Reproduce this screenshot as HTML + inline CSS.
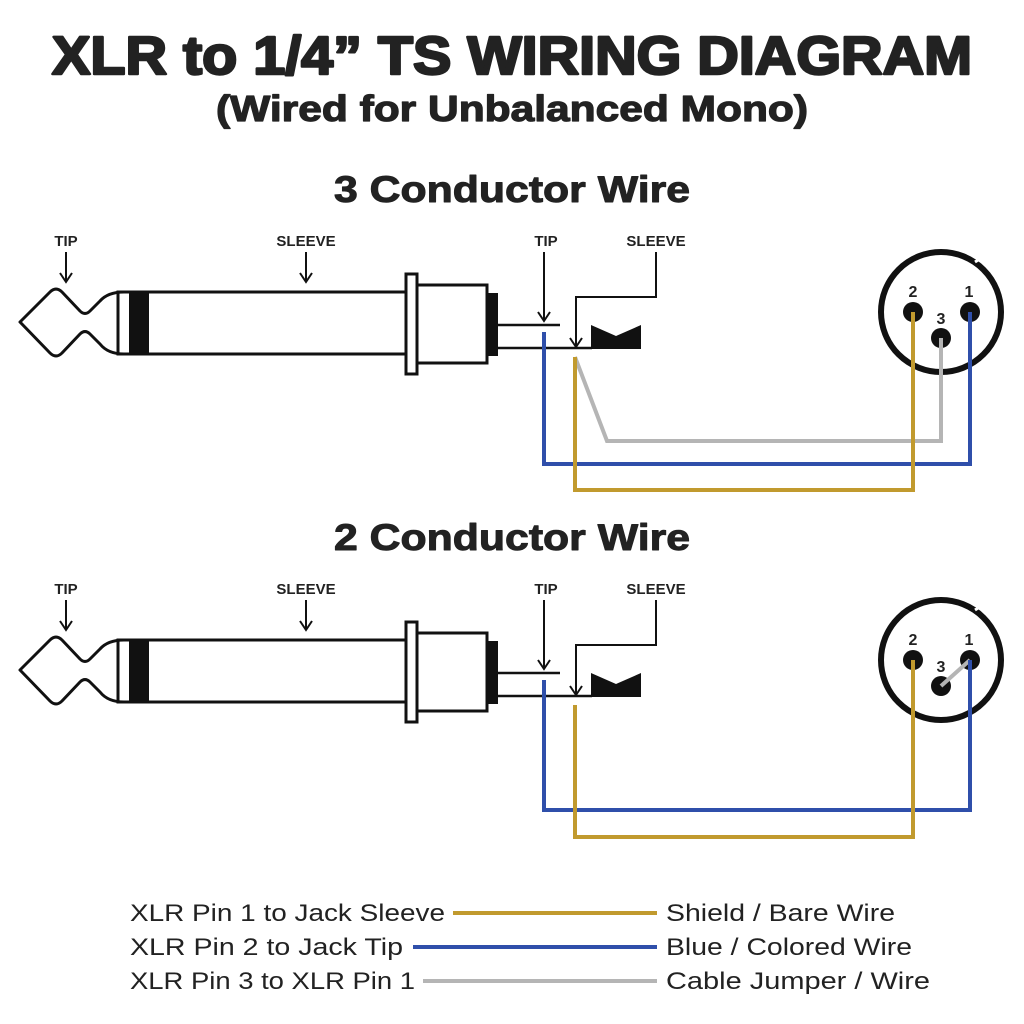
<!DOCTYPE html>
<html><head><meta charset="utf-8"><style>
html,body{margin:0;padding:0;background:#fff;}
svg{display:block;}
.b{font-family:"Liberation Sans",sans-serif;font-weight:bold;fill:#222;}
.h{font-family:"Liberation Sans",sans-serif;font-weight:bold;fill:#222;stroke:#222;stroke-linejoin:round;}
.r{font-family:"Liberation Sans",sans-serif;fill:#222;}
</style></head><body>
<svg width="1024" height="1024" viewBox="0 0 1024 1024" xmlns="http://www.w3.org/2000/svg">
<defs>
<g id="plug">
  <path d="M124,292 Q108,292 100,301 L90,311 Q85,316 80,311 L62,292 Q56,286 50,292 L20,322 L50,353 Q56,359 62,353 L80,334 Q85,329 90,334 L100,344 Q108,354 124,354" fill="none" stroke="#111" stroke-width="3" stroke-linejoin="round"/>
  <rect x="118" y="292" width="288" height="62" fill="none" stroke="#111" stroke-width="3"/>
  <rect x="129" y="292" width="20" height="62" fill="#111"/>
  <rect x="406" y="274" width="11" height="100" fill="#fff" stroke="#111" stroke-width="3"/>
  <rect x="417" y="285" width="70" height="78" fill="#fff" stroke="#111" stroke-width="3"/>
  <rect x="487" y="293" width="11" height="63" fill="#111"/>
  <line x1="498" y1="325" x2="560" y2="325" stroke="#111" stroke-width="2.5"/>
  <line x1="498" y1="348" x2="592" y2="348" stroke="#111" stroke-width="2.5"/>
  <path d="M591,325 L616,336 L641,325 L641,349 L591,349 Z" fill="#111"/>
  <line x1="544" y1="252" x2="544" y2="320" stroke="#111" stroke-width="2"/>
  <path d="M538,312 L544,321 L550,312" fill="none" stroke="#111" stroke-width="2"/>
  <path d="M656,252 L656,297 L576,297 L576,346" fill="none" stroke="#111" stroke-width="2"/>
  <path d="M570,338 L576,347 L582,338" fill="none" stroke="#111" stroke-width="2"/>
  <line x1="66" y1="252" x2="66" y2="281" stroke="#111" stroke-width="2"/>
  <path d="M60,273 L66,282 L72,273" fill="none" stroke="#111" stroke-width="2"/>
  <line x1="306" y1="252" x2="306" y2="281" stroke="#111" stroke-width="2"/>
  <path d="M300,273 L306,282 L312,273" fill="none" stroke="#111" stroke-width="2"/>
  <text class="b" x="66" y="246" font-size="15" text-anchor="middle">TIP</text>
  <text class="b" x="306" y="246" font-size="15" text-anchor="middle">SLEEVE</text>
  <text class="b" x="546" y="246" font-size="15" text-anchor="middle">TIP</text>
  <text class="b" x="656" y="246" font-size="15" text-anchor="middle">SLEEVE</text>
  <circle cx="941" cy="312" r="60" fill="none" stroke="#111" stroke-width="6"/>
  <path d="M975,262 L983,257" stroke="#fff" stroke-width="3"/>
  <circle cx="913" cy="312" r="10" fill="#111"/>
  <circle cx="970" cy="312" r="10" fill="#111"/>
  <circle cx="941" cy="338" r="10" fill="#111"/>
  <text class="b" x="913" y="297" font-size="16" text-anchor="middle">2</text>
  <text class="b" x="969" y="297" font-size="16" text-anchor="middle">1</text>
  <text class="b" x="941" y="324" font-size="16" text-anchor="middle">3</text>
</g>
</defs>
<text class="h" x="512" y="74" font-size="54" stroke-width="2.5" text-anchor="middle" textLength="920" lengthAdjust="spacingAndGlyphs">XLR to 1/4” TS WIRING DIAGRAM</text>
<text class="h" x="512" y="121" font-size="36" stroke-width="1.2" text-anchor="middle" textLength="592" lengthAdjust="spacingAndGlyphs">(Wired for Unbalanced Mono)</text>
<text class="h" x="512" y="202" font-size="37" stroke-width="1" text-anchor="middle" textLength="356" lengthAdjust="spacingAndGlyphs">3 Conductor Wire</text>
<text class="h" x="512" y="550" font-size="37" stroke-width="1" text-anchor="middle" textLength="356" lengthAdjust="spacingAndGlyphs">2 Conductor Wire</text>

<use href="#plug"/>
<polyline points="575,357 607,441 941,441 941,338" fill="none" stroke="#B5B5B5" stroke-width="4"/>
<polyline points="544,332 544,464 970,464 970,312" fill="none" stroke="#2F4FAA" stroke-width="4"/>
<polyline points="575,357 575,490 913,490 913,312" fill="none" stroke="#C19A2E" stroke-width="4"/>

<g transform="translate(0,348)">
<use href="#plug"/>
<line x1="941" y1="338" x2="970" y2="312" stroke="#B5B5B5" stroke-width="4"/>
<polyline points="544,332 544,462 970,462 970,312" fill="none" stroke="#2F4FAA" stroke-width="4"/>
<polyline points="575,357 575,489 913,489 913,312" fill="none" stroke="#C19A2E" stroke-width="4"/>
</g>

<text class="r" x="130" y="921" font-size="24" textLength="315" lengthAdjust="spacingAndGlyphs">XLR Pin 1 to Jack Sleeve</text>
<text class="r" x="130" y="955" font-size="24" textLength="273" lengthAdjust="spacingAndGlyphs">XLR Pin 2 to Jack Tip</text>
<text class="r" x="130" y="989" font-size="24" textLength="285" lengthAdjust="spacingAndGlyphs">XLR Pin 3 to XLR Pin 1</text>
<line x1="453" y1="913" x2="657" y2="913" stroke="#C19A2E" stroke-width="4"/>
<line x1="413" y1="947" x2="657" y2="947" stroke="#2F4FAA" stroke-width="4"/>
<line x1="423" y1="981" x2="657" y2="981" stroke="#B5B5B5" stroke-width="4"/>
<text class="r" x="666" y="921" font-size="24" textLength="229" lengthAdjust="spacingAndGlyphs">Shield / Bare Wire</text>
<text class="r" x="666" y="955" font-size="24" textLength="246" lengthAdjust="spacingAndGlyphs">Blue / Colored Wire</text>
<text class="r" x="666" y="989" font-size="24" textLength="264" lengthAdjust="spacingAndGlyphs">Cable Jumper / Wire</text>
</svg>
</body></html>
